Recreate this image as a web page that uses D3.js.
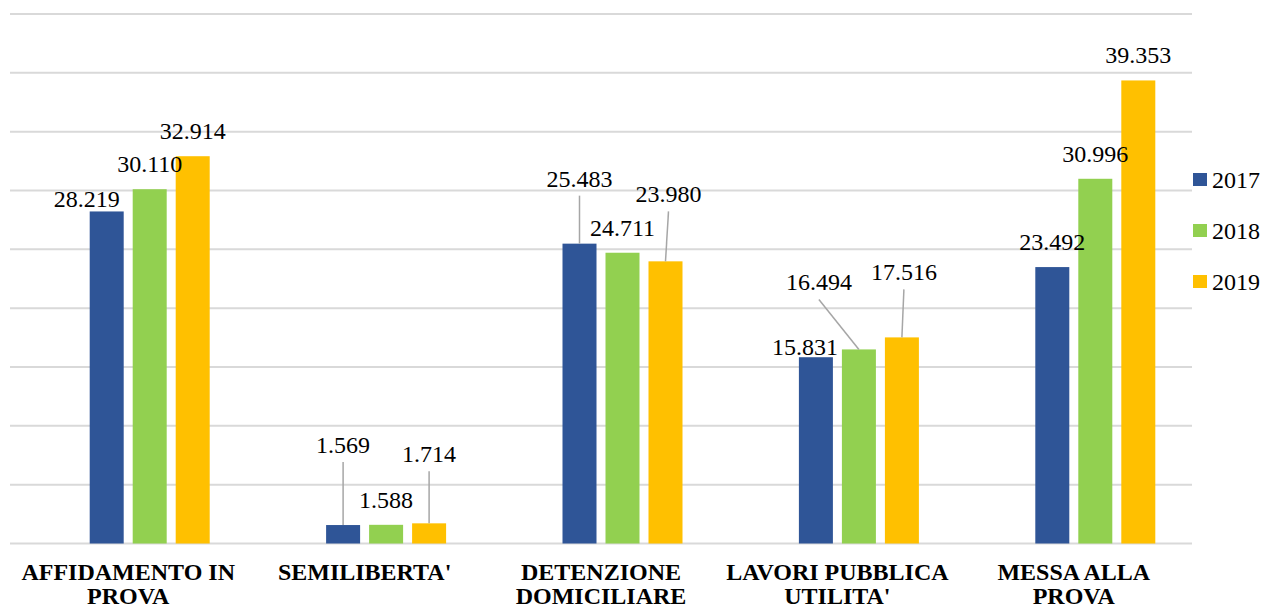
<!DOCTYPE html>
<html>
<head>
    <meta charset="UTF-8">
    <script src="https://d3js.org/d3.v7.min.js"></script>
    <style>
        svg text, svg tspan {
            font-family: "Liberation Serif", "Tinos", "Times New Roman", "FreeSerif", serif !important;
        }
    </style>
</head>
<body style="margin:0">
    <svg id="s" width="1268" height="608" font-family="Liberation Serif"></svg>

    <script>
        // Data
        const categories = ["AFFIDAMENTO IN PROVA", "SEMILIBERTA'", "DETENZIONE DOMICILIARE", "LAVORI PUBBLICA UTILITA'", "MESSA ALLA PROVA"];
        const categoryLines = [["AFFIDAMENTO IN", "PROVA"], ["SEMILIBERTA'"], ["DETENZIONE", "DOMICILIARE"], ["LAVORI PUBBLICA", "UTILITA'"], ["MESSA ALLA", "PROVA"]];
        const years = ["2017", "2018", "2019"];
        const values2017 = [28219, 1569, 25483, 15831, 23492];
        const values2018 = [30110, 1588, 24711, 16494, 30996];
        const values2019 = [32914, 1714, 23980, 17516, 39353];
        const gridTicks = [0, 5000, 10000, 15000, 20000, 25000, 30000, 35000, 40000, 45000];

        const colors = { "2017": "#2f5597", "2018": "#92d050", "2019": "#ffc000" };

        // label nudges (px) from the default spot above the bar, and whether a leader line is drawn
        const labelNudge = {
            "2017": [[-20, 13, false], [0, -55, true], [0, -40, true], [-11, 15, false], [0, 0, false]],
            "2018": [[0, 0, false], [0, 0, false], [0, 0, false], [-40, -42, true], [0, 0, false]],
            "2019": [[0, 0, false], [0, -44, true], [3, -42, true], [2, -40, true], [0, 0, false]]
        };

        const series = years.map((yr, i) => ({ year: yr, values: [values2017, values2018, values2019][i] }));

        const svg = d3.select("#s");
        const plotLeft = 10, plotRight = 1192, plotTop = 14, plotBottom = 543.5;

        // helper so every text gets the Times-like font
        function serifText(sel, size, bold) {
            sel.style("font-family", '"Liberation Serif"')
                .style("font-size", size + "px")
                .attr("fill", "#000");
            if (bold) sel.style("font-weight", "bold");
            return sel;
        }

        const x = d3.scaleBand().domain(categories).range([plotLeft, plotRight]).padding(0);
        // bars sit right of the band centre in the original (one empty slot before them)
        const x1 = d3.scaleBand().domain(years).range([-43, 86]);
        const barW = 34;

        const y = d3.scaleLinear().domain([0, 45000]).range([plotBottom, plotTop]);

        // Gridlines
        svg.append("g")
            .selectAll("line")
            .data(gridTicks)
            .join("line")
            .attr("x1", plotLeft)
            .attr("x2", plotRight)
            .attr("y1", d => y(d))
            .attr("y2", d => y(d))
            .attr("stroke", "#d9d9d9")
            .attr("stroke-width", 2);

        const cx = (cat, yr) => x(cat) + x.bandwidth() / 2 + x1(yr) + x1.bandwidth() / 2;

        // Bars
        series.forEach(s => {
            svg.append("g")
                .selectAll("rect")
                .data(s.values)
                .join("rect")
                .attr("x", (d, i) => cx(categories[i], s.year) - barW / 2)
                .attr("y", d => y(d))
                .attr("width", barW)
                .attr("height", d => y(0) - y(d))
                .attr("fill", colors[s.year]);
        });

        // Value labels and leader lines
        const fmt = v => d3.format(",")(v).replace(",", ".");
        series.forEach(s => {
            s.values.forEach((v, i) => {
                const bx = cx(categories[i], s.year);
                const by = y(v);
                const [dx, dy, leader] = labelNudge[s.year][i];
                const lx = bx + dx;
                const ly = by - 17 + dy;
                if (leader) {
                    svg.append("line")
                        .attr("x1", lx).attr("y1", ly + 9)
                        .attr("x2", bx).attr("y2", by)
                        .attr("stroke", "#a6a6a6")
                        .attr("stroke-width", 1.5);
                }
                serifText(svg.append("text"), 24, false)
                    .attr("text-anchor", "middle")
                    .attr("x", lx)
                    .attr("y", ly)
                    .text(fmt(v));
            });
        });

        // Category labels
        categories.forEach((c, i) => {
            const t = serifText(svg.append("text"), 24, true)
                .attr("text-anchor", "middle")
                .attr("x", x(c) + x.bandwidth() / 2)
                .attr("y", 580);
            categoryLines[i].forEach((line, j) => {
                t.append("tspan")
                    .attr("x", x(c) + x.bandwidth() / 2)
                    .attr("dy", j === 0 ? 0 : 24)
                    .text(line);
            });
        });

        // Legend
        years.forEach((yr, i) => {
            const g = svg.append("g").attr("transform", `translate(1193, ${173 + i * 51})`);
            g.append("rect").attr("width", 14).attr("height", 13).attr("fill", colors[yr]);
            serifText(g.append("text"), 24, false).attr("x", 19).attr("y", 15).text(yr);
        });
    </script>
</body>
</html>
